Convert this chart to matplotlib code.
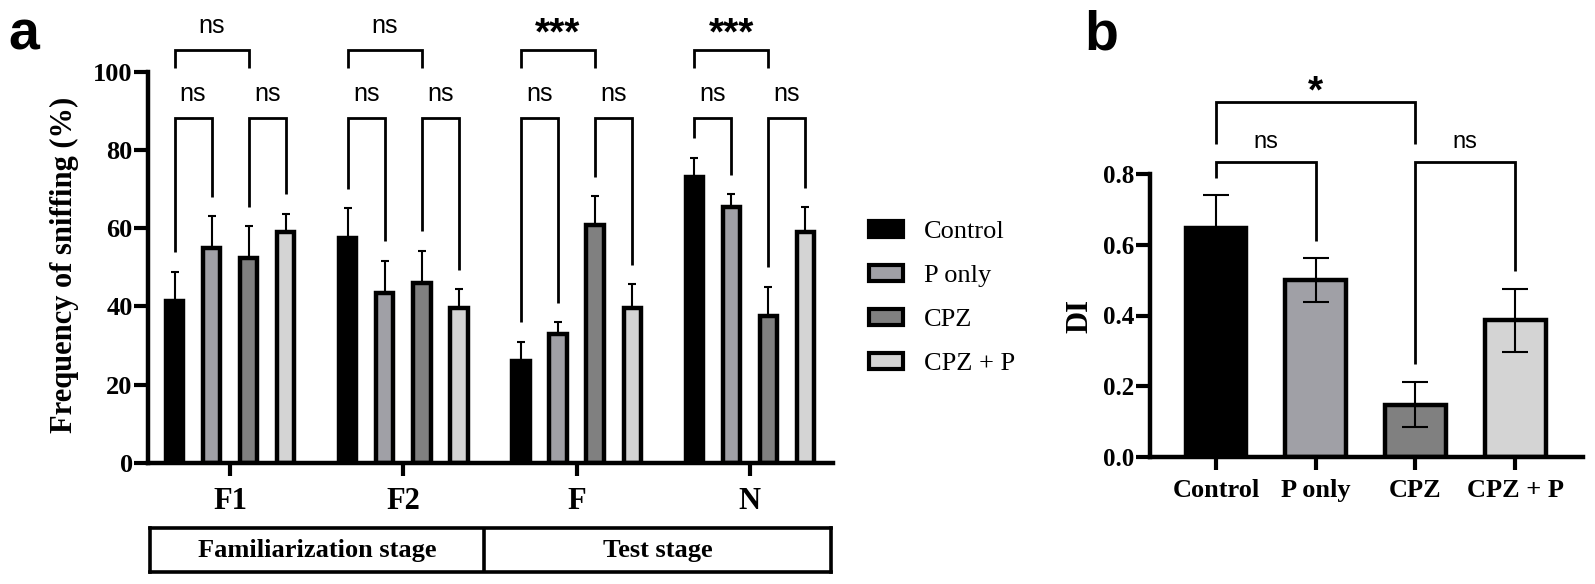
import matplotlib.pyplot as plt
from matplotlib.patches import Patch
from matplotlib.ticker import FormatStrFormatter
import numpy as np

plt.rcParams['font.family'] = ['Liberation Serif', 'DejaVu Serif']
SANS = ['Liberation Sans', 'DejaVu Sans']

# --- panel a: frequency of sniffing (%) ---
stages = ['F1', 'F2', 'F', 'N']
groups = ['Control', 'P only', 'CPZ', 'CPZ + P']
colors = ['#000000', '#a0a0a6', '#808080', '#d4d4d4']

control = [41.5, 57.5, 26.0, 73.0]
p_only = [55.0, 43.5, 33.0, 65.5]
cpz = [52.5, 46.0, 60.7, 37.5]
cpz_p = [59.0, 39.5, 39.5, 59.0]

control_err = [7.4, 7.6, 5.0, 5.0]
p_only_err = [8.0, 8.2, 3.0, 3.2]
cpz_err = [8.0, 8.3, 7.5, 7.6]
cpz_p_err = [4.7, 4.9, 6.2, 6.3]

sig_ctrl_p = ['ns', 'ns', 'ns', 'ns']
sig_cpz_cpzp = ['ns', 'ns', 'ns', 'ns']
sig_ctrl_cpz = ['ns', 'ns', '***', '***']

stage_names = ['Familiarization stage', 'Test stage']

# --- panel b: discrimination index ---
di_mean = [0.648, 0.500, 0.148, 0.386]
di_err = [0.092, 0.062, 0.064, 0.090]
di_sig_ctrl_p = 'ns'
di_sig_cpz_cpzp = 'ns'
di_sig_ctrl_cpz = '*'

W, H = 1595, 584
fig = plt.figure(figsize=(W / 100, H / 100), dpi=100)


def px_box(l, t, r, b):
    # pixel box -> figure fraction rect
    return [l / W, 1 - b / H, (r - l) / W, (b - t) / H]


def bracket(ax, x1, x2, y, y1, y2, label, dy_ns, dy_star, fs_ns):
    ax.plot([x1, x1, x2, x2], [y1, y, y, y2], color='k', lw=2,
            clip_on=False, solid_joinstyle='miter', solid_capstyle='butt')
    star = '*' in label
    ax.annotate(label, xy=((x1 + x2) / 2, y),
                xytext=(0, dy_star if star else dy_ns),
                textcoords='offset points', ha='center', va='baseline',
                family=SANS, fontsize=28 if star else fs_ns,
                fontweight='bold' if star else 'normal',
                annotation_clip=False)


def style_axes(ax):
    ax.spines['top'].set_visible(False)
    ax.spines['right'].set_visible(False)
    ax.spines['left'].set_linewidth(3.2)
    ax.spines['bottom'].set_linewidth(3.2)


# ---- panel a ----
ax = fig.add_axes(px_box(148, 71.7, 833, 463))
means = [control, p_only, cpz, cpz_p]
errs = [control_err, p_only_err, cpz_err, cpz_p_err]
x = np.arange(len(stages))
step = 0.214
xs = []
for i, (m, e, c) in enumerate(zip(means, errs, colors)):
    xi = x + (i - 1.5) * step
    xs.append(xi)
    ax.bar(xi, m, width=0.1, color=c, edgecolor='k', linewidth=3.2, zorder=2)
    ax.errorbar(xi, m, yerr=[np.zeros(len(e)), e], fmt='none', ecolor='k',
                elinewidth=1.5, capsize=3, capthick=1.5, zorder=1)

for j in range(len(stages)):
    tops = [means[i][j] + errs[i][j] for i in range(4)]
    bracket(ax, xs[0][j], xs[1][j], 88.2, tops[0] + 5, tops[1] + 5,
            sig_ctrl_p[j], 12, 4, 18)
    bracket(ax, xs[2][j], xs[3][j], 88.2, tops[2] + 5, tops[3] + 5,
            sig_cpz_cpzp[j], 12, 4, 18)
    bracket(ax, xs[0][j], xs[2][j], 105.6, 101, 101,
            sig_ctrl_cpz[j], 12, 4, 18)

ax.set_ylim(0, 100)
ax.set_xlim(-0.474, 3.48)
ax.set_yticks(range(0, 101, 20))
ax.set_xticks(x)
ax.set_xticklabels(stages)
style_axes(ax)
ax.tick_params(axis='y', width=3, length=10, pad=1, labelsize=19)
ax.tick_params(axis='x', width=3, length=9, pad=8, labelsize=22)
for lab in ax.get_xticklabels() + ax.get_yticklabels():
    lab.set_fontweight('bold')

fig.text(64 / W, 1 - 265 / H, 'Frequency of sniffing (%)', rotation=90,
         ha='center', va='center', fontsize=22, fontweight='bold')

handles = [Patch(facecolor=c, edgecolor='k', linewidth=3, label=g)
           for g, c in zip(groups, colors)]
fig.legend(handles=handles, loc='center left',
           bbox_to_anchor=(869 / W, 1 - 298 / H), frameon=False, fontsize=19,
           handlelength=1.29, handleheight=0.57, handletextpad=0.8,
           labelspacing=0.82, borderpad=0, borderaxespad=0)

# stage box under panel a
axs = fig.add_axes(px_box(150, 528, 831, 572))
axs.set_xlim(0, 1)
axs.set_ylim(0, 1)
axs.set_xticks([])
axs.set_yticks([])
for sp in axs.spines.values():
    sp.set_linewidth(2.6)
div = (484 - 150) / 681
axs.axvline(div, color='k', lw=2.6)
axs.text(div / 2, 0.5, stage_names[0], ha='center', va='center',
         fontsize=19, fontweight='bold')
axs.text((1 + div) / 2, 0.5, stage_names[1], ha='center', va='center',
         fontsize=19, fontweight='bold')

# ---- panel b ----
axb = fig.add_axes(px_box(1150, 174, 1583, 457))
xb = np.arange(len(groups))
axb.bar(xb, di_mean, width=0.61, color=colors, edgecolor='k', linewidth=3.2, zorder=2)
axb.errorbar(xb, di_mean, yerr=di_err, fmt='none', ecolor='k',
             elinewidth=1.5, capsize=9.7, capthick=1.5, zorder=3)

tops_b = [m + e for m, e in zip(di_mean, di_err)]
bracket(axb, 0, 1, 0.833, tops_b[0] + 0.05, tops_b[1] + 0.05,
        di_sig_ctrl_p, 10, 0, 17)
bracket(axb, 2, 3, 0.833, tops_b[2] + 0.05, tops_b[3] + 0.05,
        di_sig_cpz_cpzp, 10, 0, 17)
bracket(axb, 0, 2, 1.003, 0.884, 0.884, di_sig_ctrl_cpz, 10, 0, 17)

axb.set_ylim(0, 0.8)
axb.set_xlim(-0.662, 3.68)
axb.set_yticks([0, 0.2, 0.4, 0.6, 0.8])
axb.yaxis.set_major_formatter(FormatStrFormatter('%.1f'))
axb.set_xticks(xb)
axb.set_xticklabels(groups)
style_axes(axb)
axb.tick_params(axis='y', width=3, length=10, pad=1, labelsize=18)
axb.tick_params(axis='x', width=3, length=9, pad=7, labelsize=19)
for lab in axb.get_xticklabels() + axb.get_yticklabels():
    lab.set_fontweight('bold')

fig.text(1080 / W, 1 - 316 / H, 'DI', rotation=90, ha='center', va='center',
         fontsize=22, fontweight='bold')

# panel letters
fig.text(8 / W, 1 - 50 / H, 'a', family=SANS, fontsize=40, fontweight='bold',
         ha='left', va='baseline')
fig.text(1084 / W, 1 - 50 / H, 'b', family=SANS, fontsize=40, fontweight='bold',
         ha='left', va='baseline')

fig.savefig('out.png', dpi=100)
